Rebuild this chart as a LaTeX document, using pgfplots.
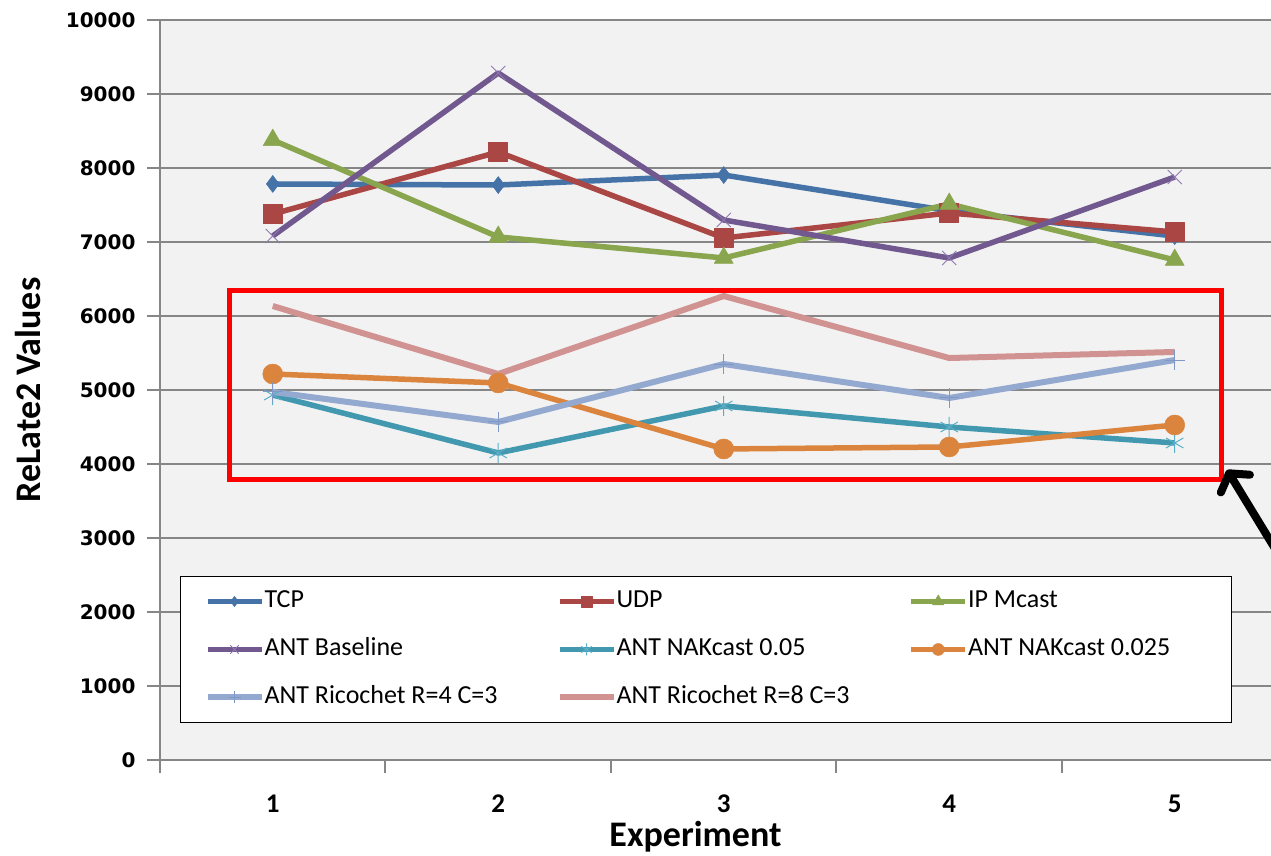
\documentclass[border=0pt]{standalone}
\usepackage{fontspec}
\setmainfont{Carlito}
\newfontfamily\dejavu{DejaVu Sans}
\usepackage{pgfplots}
\pgfplotsset{compat=1.18}
\usetikzlibrary{arrows.meta}
\definecolor{cTCP}{HTML}{4572A7}
\definecolor{cUDP}{HTML}{AA4643}
\definecolor{cIP}{HTML}{89A54E}
\definecolor{cBase}{HTML}{71588F}
\definecolor{cBaseMk}{HTML}{8F78B0}
\definecolor{cNak}{HTML}{4198AF}
\definecolor{cNakMk}{HTML}{5AAFC8}
\definecolor{cNakb}{HTML}{DB843D}
\definecolor{cRicA}{HTML}{93A9CF}
\definecolor{cRicAMk}{HTML}{7F98C8}
\definecolor{cRicB}{HTML}{D19392}
\definecolor{plotbg}{HTML}{F2F2F2}
\definecolor{axgray}{HTML}{868686}
\begin{document}
\begin{tikzpicture}[x=1pt,y=1pt]
\useasboundingbox (0,0) rectangle (1271,856);
\fill[white] (0,0) rectangle (1271,856);
\begin{axis}[
  at={(160pt,96pt)}, anchor=south west,
  scale only axis, width=1111pt, height=740pt,
  xmin=0.5, xmax=5.427, ymin=0, ymax=10000,
  axis background/.style={fill=plotbg},
  axis x line*=bottom, axis y line*=left,
  axis line style={draw=axgray, line width=2pt},
  ytick={0,1000,...,10000},
  ymajorgrids, grid style={axgray, line width=1.5pt},
  tick align=outside, major tick length=13pt, minor tick length=13pt,
  tick style={axgray, line width=2pt},
  xtick={1,2,3,4,5},
  major x tick style={draw=none},
  minor xtick={0.5,1.5,2.5,3.5,4.5,5.5},
  scaled y ticks=false,
  yticklabel style={font=\dejavu\bfseries\fontsize{20}{24}\selectfont, /pgf/number format/1000 sep={}, /pgf/number format/assume math mode=true, xshift=-8pt},
  xticklabel style={font=\bfseries\fontsize{27}{30}\selectfont, /pgf/number format/assume math mode=true, yshift=-18pt},
  xlabel={Experiment},
  ylabel={ReLate2 Values},
  xlabel style={font=\bfseries\fontsize{36}{40}\selectfont, at={(axis description cs:0.482,-0.104)}, anchor=center},
  ylabel style={font=\bfseries\fontsize{36}{40}\selectfont, at={(axis description cs:-0.119,0.5)}, anchor=center, rotate=0},
  legend columns=3,
  legend cell align=left,
  legend image code/.code={\draw[mark repeat=2,mark phase=2,#1] plot coordinates {(0pt,0pt) (27pt,0pt) (54pt,0pt)};},
  legend image post style={every mark/.append style={scale=0.6}},
  legend style={at={(axis description cs:0.018,0.05)}, anchor=south west, draw=black, line width=1pt, fill=white,
    font=\fontsize{26}{30}\selectfont, inner xsep=24pt, inner ysep=14pt,
    /tikz/column sep=0pt, /tikz/row sep=26pt,
    nodes={inner sep=0pt, text height=17pt, text depth=5pt}},
  every axis plot/.append style={line join=round},
]
\addplot[cTCP, line width=5.5pt, mark=diamond*, mark size=8.5pt, mark options={solid, fill=cTCP, draw=cTCP, line width=0.5pt}]
  coordinates {(1,7784) (2,7770) (3,7905) (4,7420) (5,7080)};
\addlegendentry{\makebox[292pt][l]{TCP}}
\addplot[cUDP, line width=5.5pt, mark=square*, mark size=9.5pt, mark options={solid, fill=cUDP, draw=cUDP, line width=0.5pt}]
  coordinates {(1,7378) (2,8216) (3,7054) (4,7392) (5,7135)};
\addlegendentry{\makebox[292pt][l]{UDP}}
\addplot[cIP, line width=5.5pt, mark=triangle*, mark size=11pt, mark options={solid, fill=cIP, draw=cIP, line width=0.5pt}]
  coordinates {(1,8378) (2,7068) (3,6784) (4,7514) (5,6757)};
\addlegendentry{\makebox[239pt][l]{IP Mcast}}
\addplot[cBase, line width=5.5pt, mark=x, mark size=10pt, mark options={solid, draw=cBaseMk, line width=1pt}]
  coordinates {(1,7081) (2,9284) (3,7297) (4,6784) (5,7878)};
\addlegendentry{\makebox[292pt][l]{ANT Baseline}}
\addplot[cNak, line width=5.5pt, mark=asterisk, mark size=10pt, mark options={solid, draw=cNakMk, line width=1pt}]
  coordinates {(1,4932) (2,4149) (3,4784) (4,4500) (5,4284)};
\addlegendentry{\makebox[292pt][l]{ANT NAKcast 0.05}}
\addplot[cNakb, line width=5.5pt, mark=*, mark size=10pt, mark options={solid, fill=cNakb, draw=cNakb, line width=0.5pt}]
  coordinates {(1,5216) (2,5095) (3,4203) (4,4230) (5,4527)};
\addlegendentry{\makebox[239pt][l]{ANT NAKcast 0.025}}
\addplot[cRicA, line width=6pt, mark=+, mark size=10pt, mark options={solid, draw=cRicAMk, line width=1pt}]
  coordinates {(1,4973) (2,4568) (3,5351) (4,4892) (5,5405)};
\addlegendentry{\makebox[292pt][l]{ANT Ricochet R=4 C=3}}
\addplot[cRicB, line width=6pt, no marks]
  coordinates {(1,6135) (2,5216) (3,6270) (4,5432) (5,5514)};
\addlegendentry{\makebox[292pt][l]{ANT Ricochet R=8 C=3}}
\draw[red, line width=5pt] (axis cs:0.81,3784) rectangle (axis cs:5.209,6351);
\draw[black, line width=8pt, line cap=round, -{Straight Barb[length=12pt, width=34pt, line cap=round, line join=round]}] (axis cs:5.52,2480) -- (axis cs:5.232,3920);
\end{axis}
\end{tikzpicture}
\end{document}
